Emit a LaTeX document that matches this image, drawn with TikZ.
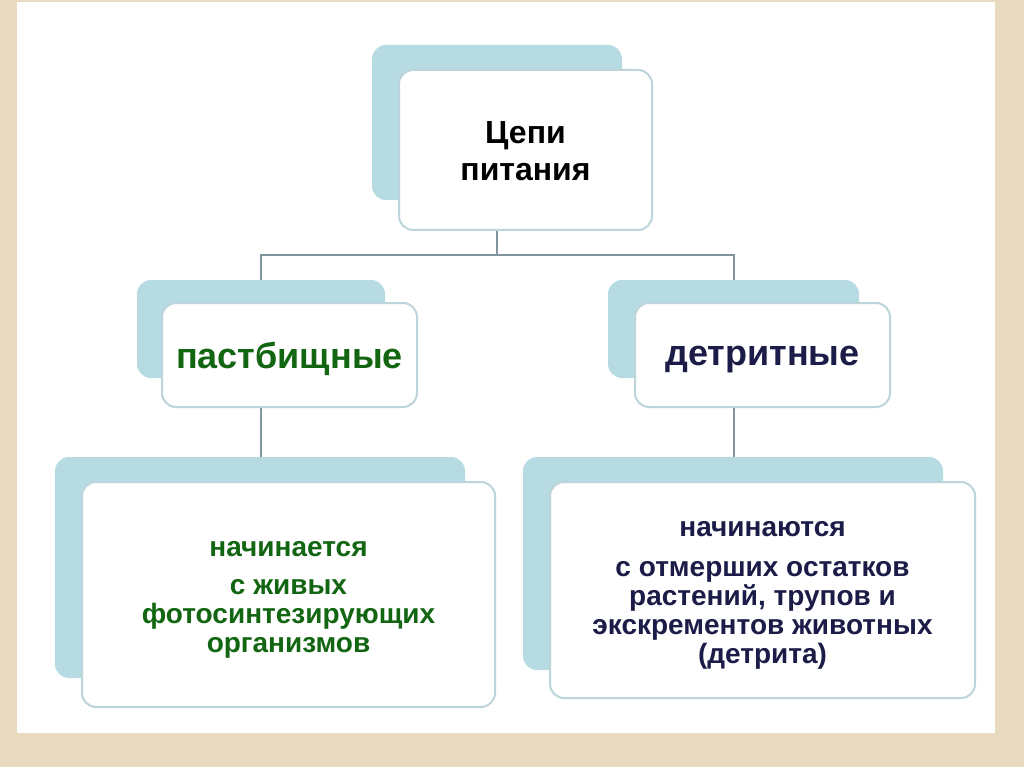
\documentclass[tikz,border=0pt]{standalone}
\usepackage{fontspec}
\setmainfont{Liberation Sans}
\usetikzlibrary{positioning}
\definecolor{framebeige}{RGB}{233,219,191}
\definecolor{shadowteal}{RGB}{183,219,226}
\definecolor{edgeteal}{RGB}{188,212,218}
\definecolor{linkgray}{RGB}{128,150,156}
\definecolor{grassgreen}{RGB}{18,102,18}
\definecolor{detnavy}{RGB}{28,28,72}

\tikzset{
  backbox/.style={fill=shadowteal, rounded corners=14pt, inner sep=0pt},
  frontbox/.style={fill=white, draw=edgeteal, line width=2pt, rounded corners=14pt,
    inner sep=0pt},
  toptext/.style={font=\fontsize{32}{37}\selectfont\bfseries, align=center},
  midtext/.style={font=\fontsize{36}{36}\selectfont\bfseries, align=center},
  lowtext/.style={font=\fontsize{28}{29}\selectfont\bfseries, align=center},
  link/.style={draw=linkgray, line width=2pt},
}

\begin{document}
\begin{tikzpicture}[x=1pt, y=-1pt]
    % frame
    \fill[framebeige] (0,0) rectangle (1024,767);
    \fill[white] (17,2) rectangle (995,733);
    \useasboundingbox (0,0) rectangle (1024,767);

    % top
    \node[backbox, minimum width=250pt, minimum height=155pt] (topback) at (497,122.5) {};
    \node[frontbox, minimum width=253pt, minimum height=160pt] (topfront) at (525.5,150) {};
    \node[toptext] (toplabel) at ([yshift=-1pt]topfront.center) {Цепи\\питания};

    % second row
    \node[backbox, minimum width=248pt, minimum height=98pt] (pastback) at (261,329) {};
    \node[frontbox, minimum width=255pt, minimum height=104pt] (pastfront) at (289.5,355) {};
    \node[midtext, text=grassgreen] (pastlabel) at ([yshift=-4pt]pastfront.center) {пастбищные};
    \node[backbox, minimum width=251pt, minimum height=98pt] (detback) at (733.5,329) {};
    \node[frontbox, minimum width=255pt, minimum height=104pt] (detfront) at (762.5,355) {};
    \node[midtext, text=detnavy] (detlabel) at ([yshift=-5pt]detfront.center) {детритные};

    % third row
    \node[backbox, minimum width=410pt, minimum height=221pt] (pastlowback) at (260,567.5) {};
    \node[frontbox, minimum width=413pt, minimum height=225pt] (pastlowfront) at (288.5,594.5) {};
    \node[lowtext, text=grassgreen] (pastlowlabel) at ([yshift=-5pt]pastlowfront.center)
      {начинается\\[9pt] с живых\\фотосинтезирующих\\организмов};
    \node[backbox, minimum width=420pt, minimum height=213pt] (detlowback) at (733,563.5) {};
    \node[frontbox, minimum width=425pt, minimum height=216pt] (detlowfront) at (762.5,590) {};
    \node[lowtext, text=detnavy] (detlowlabel) at ([yshift=-5pt]detlowfront.center)
      {начинаются\\[11pt] с отмерших остатков\\растений, трупов и\\экскрементов животных\\(детрита)};

    % links
    \draw[link] (topback.south |- topfront.south) -- ++(0,24) coordinate (fork);
    \draw[link] (fork) -| (pastback.north);
    \draw[link] (fork) -| (detback.north);
    \draw[link] (pastback.south |- pastfront.south) -- (pastback.south |- pastlowback.north);
    \draw[link] (detback.south |- detfront.south) -- (detback.south |- detlowback.north);
\end{tikzpicture}
\end{document}
